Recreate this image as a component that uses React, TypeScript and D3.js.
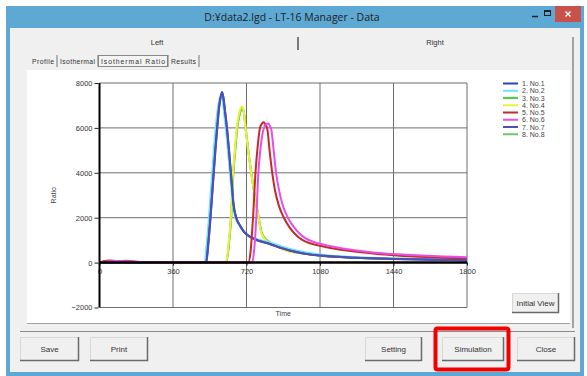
import { useEffect, useRef } from "react";
import * as d3 from "d3";

type Pt = [number, number];

// Series labels and colours as listed in the legend
const SERIES_NAMES = ["1. No.1", "2. No.2", "3. No.3", "4. No.4", "5. No.5", "6. No.6", "7. No.7", "8. No.8"];
const SERIES_COLORS = ["#2f3fc8", "#6fe3f0", "#3fd63f", "#eef03a", "#c42a2a", "#e64ee6", "#4f4fb4", "#6cc46c"];

// [time (s), ratio]
const no1: Pt[] = [[0, 0], [300, 0], [522, 0], [532, 800], [543, 2000], [551, 3000], [559, 4000], [567, 5000], [576, 6000], [588, 7100], [600, 7600], [606, 7400], [614, 6800], [624, 6000], [636, 4800], [646, 3700], [656, 2600], [668, 2050], [688, 1650], [710, 1350], [737, 1150], [780, 980], [835, 830], [880, 680], [933, 540], [1000, 410], [1100, 300], [1250, 220], [1450, 165], [1650, 130], [1800, 110]];
const no2: Pt[] = [[0, 0], [300, 0], [515, 0], [525, 800], [536, 2000], [544, 3000], [552, 4000], [560, 5000], [569, 6000], [582, 7000], [596, 7450], [603, 7250], [611, 6600], [621, 5800], [633, 4600], [644, 3500], [654, 2550], [666, 2000], [686, 1640], [708, 1360], [735, 1180], [778, 1030], [833, 900], [880, 760], [933, 610], [1000, 470], [1100, 340], [1250, 250], [1450, 185], [1650, 145], [1800, 125]];
const no3: Pt[] = [[0, 0], [60, 30], [120, 20], [400, 0], [620, 0], [633, 800], [644, 2000], [655, 4000], [664, 5000], [673, 5900], [686, 6600], [700, 6850], [707, 6700], [717, 5900], [730, 4900], [745, 3900], [762, 2900], [781, 1950], [792, 1400], [808, 1120], [832, 920], [872, 720], [922, 540], [982, 430], [1050, 350], [1130, 280], [1250, 220], [1450, 170], [1650, 140], [1800, 120]];
const no4: Pt[] = [[0, 0], [400, 0], [620, 0], [632, 800], [643, 2000], [654, 4000], [663, 5000], [672, 6000], [685, 6700], [698, 6950], [705, 6800], [715, 6000], [728, 5000], [743, 4000], [760, 3000], [779, 2000], [790, 1400], [805, 1100], [830, 900], [870, 700], [920, 520], [980, 420], [1050, 340], [1130, 270], [1250, 220], [1450, 170], [1650, 140], [1800, 120]];
const no5: Pt[] = [[0, 0], [20, 60], [50, 90], [90, 70], [130, 80], [180, 40], [260, 20], [350, 0], [729, 0], [740, 500], [752, 2000], [764, 4000], [775, 5200], [786, 6000], [796, 6200], [805, 6250], [812, 6150], [821, 6000], [833, 5000], [846, 4000], [860, 3200], [878, 2550], [903, 2000], [930, 1580], [960, 1250], [995, 1000], [1035, 850], [1080, 750], [1131, 650], [1250, 490], [1350, 395], [1457, 320], [1600, 250], [1800, 190]];
const no6: Pt[] = [[0, 0], [40, 50], [80, 70], [140, 50], [220, 20], [320, 0], [748, 0], [758, 600], [768, 2000], [778, 4000], [790, 5200], [802, 5900], [815, 6150], [827, 6200], [834, 6100], [842, 5900], [853, 5000], [865, 4000], [879, 3250], [896, 2600], [920, 2050], [947, 1650], [977, 1320], [1010, 1080], [1050, 920], [1095, 810], [1140, 720], [1250, 550], [1350, 440], [1457, 370], [1600, 300], [1800, 240]];
const no7: Pt[] = [[0, 0], [300, 0], [523, 0], [533, 800], [544, 2000], [552, 3000], [560, 4000], [568, 5000], [577, 6000], [589, 7100], [601, 7550], [607, 7350], [615, 6750], [625, 5950], [637, 4750], [647, 3650], [657, 2580], [669, 2030], [689, 1640], [711, 1340], [738, 1140], [781, 960], [836, 820], [881, 670], [934, 530], [1001, 400], [1100, 290], [1250, 215], [1450, 160], [1650, 125], [1800, 105]];
const no8: Pt[] = [[0, 0], [60, 20], [110, 30], [200, 0], [621, 0], [634, 800], [645, 2000], [656, 4000], [665, 5000], [674, 5950], [687, 6650], [699, 6900], [706, 6750], [716, 5950], [729, 4950], [744, 3950], [761, 2950], [780, 1980], [791, 1420], [806, 1110], [831, 910], [871, 710], [921, 530], [981, 425], [1050, 345], [1130, 275], [1250, 220], [1450, 170], [1650, 140], [1800, 120]];

const SERIES = [no1, no2, no3, no4, no5, no6, no7, no8];
// indices, back to front
const DRAW_ORDER = [2, 7, 3, 1, 0, 6, 4, 5];

const X_TICKS = [0, 360, 720, 1080, 1440, 1800];
const Y_TICKS = [-2000, 0, 2000, 4000, 6000, 8000];

const SUB_TABS = ["Profile", "Isothermal", "Isothermal Ratio", "Results"];

const UI_FONT = "'Liberation Sans', Arial, sans-serif";

const Button = ({ x, y, w, h, label }: { x: number; y: number; w: number; h: number; label: string }) => (
  <g>
    <rect x={x} y={y} width={w} height={h} fill="#f0f0f0" />
    <path d={`M${x + 0.5},${y + h} V${y + 0.5} H${x + w}`} stroke="#d8d8d8" fill="none" />
    <path d={`M${x},${y + h - 0.5} H${x + w - 0.5} V${y}`} stroke="#6a6a6a" strokeWidth={1.5} fill="none" />
    <text x={x + w / 2} y={y + h / 2 + 3} textAnchor="middle" fontSize={8} fill="#333" fontFamily={UI_FONT}>
      {label}
    </text>
  </g>
);

const Chart = () => {
  const ref = useRef<SVGGElement | null>(null);

  useEffect(() => {
    if (!ref.current) return;
    const g = d3.select(ref.current);
    g.selectAll("*").remove();

    const x = d3.scaleLinear().domain([0, 1800]).range([99.5, 467]);
    const y = d3.scaleLinear().domain([-2000, 8000]).range([307.5, 83]);

    // grid + frame
    g.append("g")
      .selectAll("line")
      .data(X_TICKS.filter((t) => t > 0))
      .join("line")
      .attr("x1", (d) => x(d))
      .attr("x2", (d) => x(d))
      .attr("y1", y(8000))
      .attr("y2", y(-2000))
      .attr("stroke", "#6e6e6e")
      .attr("stroke-width", 1);
    g.append("g")
      .selectAll("line")
      .data(Y_TICKS.filter((t) => t !== 0))
      .join("line")
      .attr("x1", x(0))
      .attr("x2", x(1800))
      .attr("y1", (d) => y(d))
      .attr("y2", (d) => y(d))
      .attr("stroke", "#6e6e6e")
      .attr("stroke-width", 1);

    // curves
    const line = d3
      .line<Pt>()
      .x((d) => x(d[0]))
      .y((d) => y(d[1]))
      .curve(d3.curveMonotoneX);
    g.append("g")
      .selectAll("path")
      .data(DRAW_ORDER)
      .join("path")
      .attr("d", (i) => line(SERIES[i]))
      .attr("fill", "none")
      .attr("stroke", (i) => SERIES_COLORS[i])
      .attr("stroke-width", 2)
      .attr("stroke-linejoin", "round");

    // axes
    const fmt = d3.format("d");
    g.append("g")
      .attr("transform", `translate(${x(0) - 1},0)`)
      .call(d3.axisLeft(y).tickValues(Y_TICKS).tickFormat((v) => fmt(v as number)).tickSize(4).tickPadding(2))
      .call((a) => a.select(".domain").remove())
      .call((a) => a.selectAll("line").attr("stroke", "#222"))
      .call((a) =>
        a.selectAll("text").attr("fill", "#333").attr("font-size", 7.5).attr("font-family", UI_FONT)
      );
    g.append("g")
      .attr("transform", `translate(0,${y(0)})`)
      .call(d3.axisBottom(x).tickValues(X_TICKS).tickFormat((v) => fmt(v as number)).tickSize(3).tickPadding(3))
      .call((a) => a.select(".domain").remove())
      .call((a) => a.selectAll("line").attr("stroke", "#222"))
      .call((a) =>
        a.selectAll("text").attr("fill", "#333").attr("font-size", 7.5).attr("font-family", UI_FONT)
      );

    g.append("line")
      .attr("x1", x(0))
      .attr("x2", x(1800))
      .attr("y1", y(0))
      .attr("y2", y(0))
      .attr("stroke", "#000")
      .attr("stroke-width", 2.5);
    g.append("line")
      .attr("x1", x(0))
      .attr("x2", x(0))
      .attr("y1", y(8000))
      .attr("y2", y(-2000))
      .attr("stroke", "#000")
      .attr("stroke-width", 2);

    // axis titles
    g.append("text")
      .attr("transform", `translate(56,${(y(8000) + y(-2000)) / 2}) rotate(-90)`)
      .attr("text-anchor", "middle")
      .attr("font-size", 7)
      .attr("fill", "#444")
      .attr("font-family", UI_FONT)
      .text("Ratio");
    g.append("text")
      .attr("x", (x(0) + x(1800)) / 2)
      .attr("y", 316)
      .attr("text-anchor", "middle")
      .attr("font-size", 7)
      .attr("fill", "#444")
      .attr("font-family", UI_FONT)
      .text("Time");

    // legend
    const leg = g
      .append("g")
      .selectAll("g")
      .data(SERIES_NAMES)
      .join("g")
      .attr("transform", (_d, i) => `translate(503,${83.5 + i * 7.25})`);
    leg
      .append("line")
      .attr("x2", 15)
      .attr("stroke", (_d, i) => SERIES_COLORS[i])
      .attr("stroke-width", 2);
    leg
      .append("text")
      .attr("x", 19)
      .attr("y", 2.6)
      .attr("font-size", 7)
      .attr("fill", "#444")
      .attr("font-family", UI_FONT)
      .text((d) => d);
  }, []);

  return <g ref={ref} />;
};

const App = () => {
  let tabX = 32;
  const tabWidths = [23, 36, 65, 26];
  const tabs = SUB_TABS.map((label, i) => {
    const x0 = tabX;
    tabX += tabWidths[i] + 5;
    return { label, x0, w: tabWidths[i] };
  });

  return (
    <svg
      width={587}
      height={376}
      style={{ position: "absolute", left: 0, top: 0, display: "block" }}
    >
      <rect width={587} height={376} fill="#ffffff" />
      {/* window frame */}
      <rect x={6} y={6} width={578} height={370} fill="#5ea9d4" />
      <rect x={10} y={28} width={570} height={344} fill="#f0f0f0" />
      <text x={292} y={21} textAnchor="middle" fontSize={10.5} fill="#1c1c1c" fontFamily="'Open Sans', sans-serif">
        D:¥data2.lgd - LT-16 Manager - Data
      </text>
      <line x1={532} x2={538} y1={16.5} y2={16.5} stroke="#222" strokeWidth={1.5} />
      <rect x={544.5} y={10.5} width={6} height={5} fill="none" stroke="#222" strokeWidth={1} />
      <rect x={544.5} y={10.5} width={6} height={1.5} fill="#222" />
      <rect x={555} y={6} width={26} height={16} fill="#c9514b" />
      <path d="M565.5,11.5 L570.5,16.5 M570.5,11.5 L565.5,16.5" stroke="#fff" strokeWidth={1.4} />

      {/* main tabs */}
      <text x={157} y={45} textAnchor="middle" fontSize={7.5} fill="#333" fontFamily={UI_FONT}>Left</text>
      <text x={435} y={45} textAnchor="middle" fontSize={7.5} fill="#333" fontFamily={UI_FONT}>Right</text>
      <line x1={298} x2={298} y1={37} y2={50} stroke="#555" strokeWidth={1.5} />
      <line x1={573} x2={573} y1={37} y2={328} stroke="#8a8a8a" strokeWidth={1.5} />

      {/* sub tabs */}
      {tabs.map((t, i) => (
        <g key={t.label}>
          {i === 2 && (
            <rect x={t.x0 - 2.5} y={55.5} width={t.w + 4} height={11} fill="#f4f4f4" stroke="#888" />
          )}
          <text x={t.x0} y={63.5} fontSize={6.8} fill="#333" fontFamily={UI_FONT} textLength={t.w - 1}>
            {t.label}
          </text>
          <line x1={t.x0 + t.w + 2} x2={t.x0 + t.w + 2} y1={55} y2={67} stroke="#777" />
        </g>
      ))}

      {/* chart panel */}
      <rect x={27} y={70} width={543} height={253} fill="#ffffff" />
      <line x1={27} x2={570} y1={323.5} y2={323.5} stroke="#a0a0a0" />
      <line x1={20} x2={575} y1={331.5} y2={331.5} stroke="#8a8a8a" strokeWidth={1.2} />
      <Chart />
      <Button x={512} y={293} w={47} h={20} label="Initial View" />

      {/* bottom buttons */}
      <Button x={20} y={337} w={59} h={24} label="Save" />
      <Button x={90} y={337} w={58} h={24} label="Print" />
      <Button x={365} y={337} w={57} h={24} label="Setting" />
      <Button x={442} y={337} w={62} h={24} label="Simulation" />
      <Button x={517} y={337} w={58} h={24} label="Close" />
      <rect x={435.5} y={328.5} width={73} height={41} rx={2} fill="none" stroke="#f20000" strokeWidth={4} />
    </svg>
  );
};

export default App;
